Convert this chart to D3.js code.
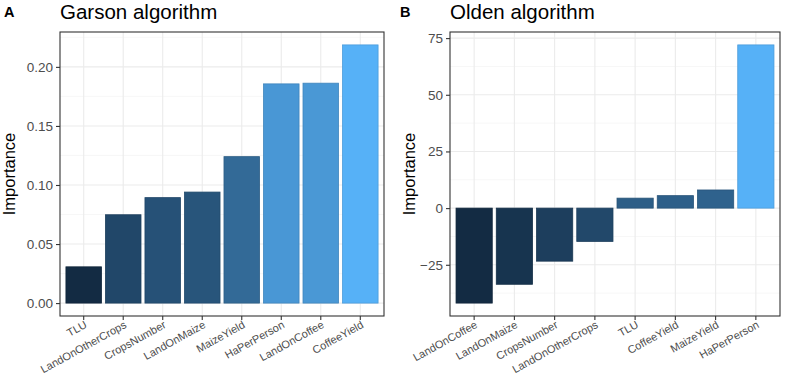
<!DOCTYPE html>
<html><head><meta charset="utf-8">
<script src="https://cdn.jsdelivr.net/npm/d3@7"></script>
<style>
body{margin:0;background:#fff;}
text{font-family:"Liberation Sans",Arial,sans-serif;}
</style></head>
<body><svg id="c" width="785" height="375"></svg>
<script>
const garsonCats = ["TLU","LandOnOtherCrops","CropsNumber","LandOnMaize","MaizeYield","HaPerPerson","LandOnCoffee","CoffeeYield"];
const garsonVals = [0.0307,0.0748,0.0893,0.0940,0.1240,0.1856,0.1862,0.2186];
const garsonTicks = [0.00,0.05,0.10,0.15,0.20];
const oldenCats = ["LandOnCoffee","LandOnMaize","CropsNumber","LandOnOtherCrops","TLU","CoffeeYield","MaizeYield","HaPerPerson"];
const oldenVals = [-41.9,-33.6,-23.4,-14.7,4.4,5.5,8.0,72.0];
const oldenTicks = [-25,0,25,50,75];

const svg = d3.select("#c");

function panel(o){
  const g = svg.append("g");
  const {x0,x1,y0,y1} = o;
  const vmin = Math.min(0,d3.min(o.vals)), vmax = Math.max(0,d3.max(o.vals));
  const pad = (vmax-vmin)*0.05;
  const y = d3.scaleLinear().domain([vmin-pad,vmax+pad]).range([y1,y0]);
  const n = o.cats.length;
  const xl = d3.scaleLinear().domain([0.4,n+0.6]).range([x0,x1]);
  const x = d3.scaleBand().domain(o.cats).range([xl(0.5),xl(n+0.5)]).paddingInner(0.1).paddingOuter(0.05);
  const col = d3.scaleLinear().domain([d3.min(o.vals),d3.max(o.vals)]).range(["#132B43","#56B1F7"]).interpolate(d3.interpolateLab);

  const tk = o.ticks, step = tk[1]-tk[0];
  const minors = [];
  for(let t=tk[0]-step/2; t<=vmax+pad; t+=step){ if(y(t)>=y0 && y(t)<=y1) minors.push(t); }
  g.selectAll(".mn").data(minors).enter().append("line")
    .attr("x1",x0).attr("x2",x1).attr("y1",d=>y(d)).attr("y2",d=>y(d))
    .attr("stroke","#f2f2f2").attr("stroke-width",0.6);
  g.selectAll(".mj").data(tk).enter().append("line")
    .attr("x1",x0).attr("x2",x1).attr("y1",d=>y(d)).attr("y2",d=>y(d))
    .attr("stroke","#ebebeb").attr("stroke-width",1.1);
  g.selectAll(".vg").data(o.cats).enter().append("line")
    .attr("x1",d=>x(d)+x.bandwidth()/2).attr("x2",d=>x(d)+x.bandwidth()/2).attr("y1",y0).attr("y2",y1)
    .attr("stroke","#ebebeb").attr("stroke-width",1.1);

  g.selectAll(".bar").data(o.vals).enter().append("rect")
    .attr("x",(d,i)=>x(o.cats[i])).attr("width",x.bandwidth())
    .attr("y",d=>y(Math.max(0,d))).attr("height",d=>Math.abs(y(d)-y(0)))
    .attr("fill",d=>col(d)).attr("stroke",d=>d3.color(col(d)).darker(0.35)).attr("stroke-width",0.8);

  g.append("rect").attr("x",x0).attr("y",y0).attr("width",x1-x0).attr("height",y1-y0)
    .attr("fill","none").attr("stroke","#333333").attr("stroke-width",1.1);

  const ya = g.append("g").attr("transform",`translate(${x0},0)`)
    .call(d3.axisLeft(y).tickValues(tk).tickFormat(o.fmt).tickSize(4).tickPadding(3));
  ya.select(".domain").remove();
  ya.selectAll("line").attr("stroke","#333333").attr("stroke-width",1.1);
  ya.selectAll("text").attr("fill","#4d4d4d").style("font-size","13.5px").style("font-family","Liberation Sans, Arial, sans-serif");

  const xa = g.append("g").attr("transform",`translate(0,${y1})`)
    .call(d3.axisBottom(x).tickSize(4).tickPadding(3));
  xa.select(".domain").remove();
  xa.selectAll("line").attr("stroke","#333333").attr("stroke-width",1.1);
  xa.selectAll("text").attr("fill","#4d4d4d").style("font-size","11px").style("font-family","Liberation Sans, Arial, sans-serif")
    .attr("text-anchor","end").attr("y",0).attr("dy",0)
    .attr("transform","translate(4,11) rotate(-29)");

  svg.append("text").attr("x",o.tagX).attr("y",17).text(o.tag)
    .style("font-size","14.5px").style("font-weight","bold").attr("fill","#000");
  svg.append("text").attr("x",x0).attr("y",18.5).text(o.title)
    .style("font-size","20.5px").attr("fill","#000");
  svg.append("text").attr("transform",`translate(${o.ylabX},${(y0+y1)/2}) rotate(-90)`)
    .attr("text-anchor","middle").text("Importance").style("font-size","16.5px").attr("fill","#000");
}

panel({x0:60,x1:384,y0:32,y1:316,cats:garsonCats,vals:garsonVals,ticks:garsonTicks,fmt:d3.format(".2f"),
  tag:"A",tagX:4,title:"Garson algorithm",ylabX:15});
panel({x0:450,x1:780,y0:32,y1:316,cats:oldenCats,vals:oldenVals,ticks:oldenTicks,fmt:d3.format("d"),
  tag:"B",tagX:400,title:"Olden algorithm",ylabX:415});
</script></body></html>
